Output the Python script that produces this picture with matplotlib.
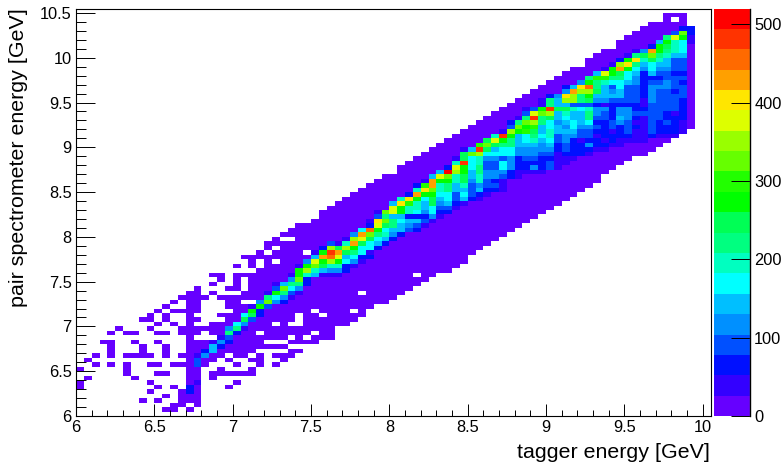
import numpy as np
import matplotlib
matplotlib.use("Agg")
import matplotlib.pyplot as plt
from matplotlib.colors import ListedColormap, BoundaryNorm
from matplotlib.ticker import MultipleLocator, FuncFormatter

plt.rcParams['font.family'] = ['Liberation Sans', 'DejaVu Sans']

# bins of the histogram: 0.05 GeV on both axes
x_edges = np.arange(82) * 0.05 + 6
y_edges = np.arange(92) * 0.05 + 6

# one colour per 26 counts, bottom to top of the palette
step = 26
palette = ['#6600ff', '#3300ff', '#0010ff', '#0050ff', '#0090ff', '#00bfff', '#00ffff',
           '#00ffc0', '#00ff80', '#00ff55', '#00ff00', '#22ff00', '#66ff00', '#99ff00',
           '#ddff00', '#ffe600', '#ffa000', '#ff6a00', '#ff3300', '#ff0000']

# isolated low count bins, row -> columns
sparse = {
    1: [11, 12, 14],
    2: [12, 13, 15],
    3: [8, 10, 13, 14, 15],
    4: [11, 13, 14, 15],
    5: [9, 13, 14, 15],
    6: [0, 10, 12, 14, 15, 19],
    7: [0, 9, 14, 15, 20],
    8: [1, 7, 14, 15, 17],
    9: [6, 10, 11, 14, 15, 17, 18, 19, 20, 21, 22],
    10: [0, 6, 14, 15, 18, 22],
    11: [2, 4, 6, 9, 10, 12, 13, 14, 15, 16, 20, 23, 25],
    12: [1, 14, 15, 16, 17, 19, 22, 23, 26],
    13: [2, 4, 6, 7, 8, 9, 11, 13, 14, 15, 16, 17, 18, 20, 21, 23, 25, 26, 27],
    14: [4, 8, 11, 14, 15, 16, 17, 18, 19, 20, 21, 22, 27, 28],
    15: [4, 8, 11, 14, 15, 16, 17, 18, 19, 20, 21, 22, 23, 24, 25, 26],
    16: [3, 4, 7, 10, 14, 15, 16, 17, 18, 19, 20, 21, 22, 23, 27, 28],
    17: [14, 18, 19, 20, 21, 22, 23, 24, 25, 26, 28],
    18: [4, 6, 7, 10, 11, 13, 14, 15, 17, 18, 19, 20, 21, 22, 24, 25, 26, 27, 28],
    19: [5, 9, 13, 14, 15, 16, 17, 18, 19, 20, 21, 22, 23, 24, 25, 26, 27, 28],
    20: [10, 12, 14, 17, 18, 19, 20, 21, 22, 23, 24, 26],
    21: [8, 9, 11, 14, 15, 19, 20, 21, 22, 23, 24, 25, 26, 27],
    22: [9, 11, 14, 18, 19, 20, 21, 22, 23, 24, 25, 26, 27],
    23: [10, 12, 13, 14, 15, 20, 21, 22, 23, 24, 25, 26, 27, 28],
    24: [11, 14, 15, 19, 20, 21, 22, 23, 24, 25, 26, 27, 28],
    25: [12, 14, 15, 19, 20, 23, 24, 25, 26, 27, 28],
    26: [13, 14, 15, 16, 18, 19, 20, 21, 22, 23, 24, 25, 26, 27, 28],
    27: [14, 15, 17, 21, 22, 23, 24, 25, 26, 27, 28],
    28: [15, 19, 20, 22, 23, 24, 25, 26, 27, 28],
    29: [17, 20, 22, 23, 24, 25, 26, 27, 28],
    30: [18, 20, 22, 23, 24, 25, 26, 27, 28],
    31: [17, 18, 20, 21, 22, 23, 24, 25, 26, 27, 28],
    32: [23, 24, 25, 26, 27, 28],
    33: [20, 22, 24, 25, 26, 27, 28],
    34: [22, 24, 26, 27, 28],
    35: [21, 22, 23, 24, 25, 26, 27, 28],
    36: [23, 25, 26, 27, 28],
    37: [24, 26, 27, 28],
    38: [24, 25, 26, 27, 28],
    39: [25, 28],
    40: [26, 27, 28],
    41: [27, 28],
    42: [28],
}

# low count band for columns 29 to 78: lowest and highest filled row
band_first_col = 29
band_bottom = [16, 16, 17, 17, 20, 20, 21, 22, 24, 25, 25, 26, 27, 28, 29, 30, 31, 32, 32, 33,
               34, 36, 37, 38, 39, 40, 41, 42, 43, 44, 45, 46, 47, 48, 49, 50, 51, 52, 54, 55,
               56, 57, 58, 58, 59, 60, 61, 62, 63, 64]
band_top = [42, 43, 45, 46, 47, 48, 49, 50, 51, 52, 53, 53, 55, 56, 57, 58, 59, 60, 61, 62,
            63, 64, 65, 66, 67, 68, 69, 70, 71, 72, 73, 74, 75, 76, 77, 77, 79, 80, 81, 81,
            83, 84, 85, 86, 87, 87, 89, 89, 89, 86]
# empty bins inside the band (column, row)
holes = [(29, 17), (30, 18), (31, 22), (30, 23), (35, 23), (36, 27), (29, 36), (43, 31), (76, 88)]

# palette level of the populated core, row -> (first column, levels)
core = {
    5: (14, [2]),
    6: (14, [2]),
    7: (15, [1]),
    11: (15, [3]),
    12: (15, [3]),
    13: (15, [1, 4]),
    14: (16, [2, 5]),
    15: (17, [5, 2]),
    16: (17, [1, 4, 2]),
    17: (18, [1, 3]),
    18: (19, [8, 2]),
    19: (19, [4, 8, 1]),
    20: (20, [6, 4]),
    21: (21, [9, 3]),
    22: (21, [6, 9, 2]),
    23: (22, [10, 2]),
    24: (22, [1, 10, 3]),
    25: (23, [4, 12, 4, 2]),
    26: (24, [8, 6, 4, 1]),
    27: (24, [1, 10, 8, 3, 1]),
    28: (25, [3, 12, 6, 4]),
    29: (25, [1, 5, 8, 8, 2]),
    30: (27, [4, 12, 2]),
    31: (27, [1, 10, 7, 5, 1, 1, 1]),
    32: (28, [10, 13, 7, 5, 4, 4, 2]),
    33: (28, [1, 10, 12, 9, 7, 7, 2, 1]),
    34: (29, [4, 14, 10, 13, 10, 6, 4, 1]),
    35: (30, [5, 16, 17, 14, 5, 6, 2, 2]),
    36: (30, [1, 10, 18, 16, 9, 8, 6, 1]),
    37: (31, [2, 13, 9, 13, 10, 6, 6, 2]),
    38: (32, [3, 1, 7, 16, 9, 6, 5, 2]),
    39: (34, [1, 13, 14, 9, 6, 5, 2]),
    40: (35, [4, 16, 12, 8, 7, 4, 2]),
    41: (36, [6, 17, 10, 6, 5, 5, 3, 2]),
    42: (37, [2, 14, 9, 8, 5, 4, 3, 1]),
    43: (37, [1, 15, 12, 8, 6, 5, 5, 3, 1]),
    44: (38, [3, 8, 5, 5, 2, 2, 2, 4, 1]),
    45: (38, [1, 12, 14, 10, 7, 6, 4, 6, 2, 2]),
    46: (40, [14, 10, 7, 7, 5, 6, 3, 3, 1]),
    47: (40, [5, 15, 11, 7, 5, 9, 4, 5, 2, 1]),
    48: (41, [7, 15, 10, 6, 9, 5, 6, 3, 5, 2, 1]),
    49: (42, [2, 16, 10, 10, 6, 6, 3, 6, 3, 2, 1]),
    50: (43, [7, 15, 12, 7, 8, 5, 5, 3, 5, 2, 2, 1]),
    51: (43, [2, 11, 16, 7, 8, 5, 7, 3, 4, 3, 3, 1]),
    52: (44, [1, 16, 10, 10, 7, 9, 4, 7, 3, 2, 1]),
    53: (45, [5, 14, 12, 7, 9, 5, 7, 4, 4, 3, 2, 1]),
    54: (46, [5, 19, 13, 10, 5, 8, 4, 4, 4, 2, 1, 1, 1, 1]),
    55: (47, [2, 14, 10, 6, 8, 3, 3, 6, 4, 2, 2, 4, 2, 3, 1]),
    56: (48, [7, 18, 6, 7, 3, 3, 6, 4, 2, 2, 2, 2, 3, 1, 1]),
    57: (48, [1, 9, 6, 7, 4, 4, 3, 4, 2, 3, 3, 2, 2, 1, 1, 1]),
    58: (49, [9, 12, 13, 6, 6, 6, 6, 4, 4, 4, 3, 3, 1, 2, 2, 2, 1]),
    59: (49, [1, 5, 18, 9, 5, 6, 6, 4, 4, 4, 4, 4, 2, 3, 2, 2, 2, 1, 1]),
    60: (51, [11, 12, 9, 8, 8, 5, 5, 5, 4, 5, 2, 3, 2, 2, 4, 2, 2, 1, 1]),
    61: (52, [9, 14, 10, 8, 5, 6, 7, 5, 6, 3, 4, 2, 1, 2, 2, 1, 2, 1, 1, 1, 1]),
    62: (53, [7, 18, 10, 5, 6, 8, 6, 7, 3, 4, 4, 3, 3, 1, 2, 2, 2, 2, 1, 1, 2, 1, 1, 1]),
    63: (54, [1, 13, 10, 11, 9, 5, 7, 5, 5, 5, 3, 3, 2, 2, 1, 2, 3, 1, 1, 3, 2, 2, 2, 1]),
    64: (55, [3, 12, 10, 11, 5, 6, 5, 4, 6, 4, 4, 3, 2, 3, 2, 3, 2, 1, 3, 2, 2, 2, 1]),
    65: (55, [2, 8, 12, 13, 8, 6, 4, 5, 6, 5, 6, 2, 2, 3, 4, 3, 1, 1, 3, 2, 3, 2, 1]),
    66: (56, [1, 8, 18, 8, 9, 5, 6, 5, 5, 8, 3, 3, 2, 5, 4, 2, 1, 3, 3, 2, 2, 2]),
    67: (57, [3, 14, 12, 13, 5, 7, 5, 5, 8, 4, 3, 2, 4, 4, 3, 3, 3, 3, 2, 1, 2]),
    68: (57, [1, 3, 10, 18, 9, 9, 7, 6, 7, 4, 4, 2, 4, 4, 2, 2, 3, 3, 3, 3, 2]),
    69: (59, [1, 8, 5, 5, 3, 3, 3, 2, 1, 2, 2, 2, 2, 1, 3, 3, 3, 3, 2]),
    70: (59, [1, 8, 5, 13, 13, 8, 9, 4, 4, 3, 3, 3, 3, 1, 4, 3, 3, 3, 2]),
    71: (60, [2, 4, 15, 13, 8, 10, 5, 5, 5, 5, 3, 3, 2, 4, 3, 3, 3, 3]),
    72: (62, [4, 16, 13, 13, 9, 5, 4, 5, 3, 3, 2, 4, 3, 3, 2, 3]),
    73: (62, [2, 5, 15, 17, 8, 5, 3, 6, 3, 3, 2, 4, 4, 4, 3, 3]),
    74: (64, [4, 10, 8, 7, 6, 6, 5, 4, 2, 3, 3, 4, 3, 2]),
    75: (65, [8, 11, 11, 8, 8, 6, 4, 2, 2, 2, 3, 3, 3]),
    76: (66, [5, 14, 10, 9, 6, 5, 2, 5, 3, 3, 2, 2]),
    77: (67, [1, 10, 16, 10, 6, 4, 6, 4, 4, 3, 3]),
    78: (68, [1, 13, 15, 8, 5, 6, 5, 5, 3, 3]),
    79: (69, [2, 10, 15, 7, 9, 7, 5, 3, 3]),
    80: (70, [1, 8, 9, 12, 8, 7, 5, 5]),
    81: (71, [1, 4, 16, 10, 8, 7, 6]),
    82: (73, [2, 10, 9, 7, 6]),
    83: (74, [5, 10, 7, 6, 1]),
    84: (75, [8, 14, 10, 1]),
    85: (76, [3, 12, 2]),
    86: (77, [2, 2]),
}

xticks = [6, 6.5, 7, 7.5, 8, 8.5, 9, 9.5, 10]
yticks = [6, 6.5, 7, 7.5, 8, 8.5, 9, 9.5, 10, 10.5]
zticks = [0, 100, 200, 300, 400, 500]

# fill the histogram, empty bins stay masked
z = np.zeros((91, 81))
for row, cols in sparse.items():
    z[row, cols] = step / 2
for i, (lo, hi) in enumerate(zip(band_bottom, band_top)):
    z[lo:hi + 1, band_first_col + i] = step / 2
for col, row in holes:
    z[row, col] = 0
for row, (col, levels) in core.items():
    z[row, col:col + len(levels)] = (np.array(levels) + 0.5) * step

W, H = 784, 463
fig = plt.figure(figsize=(W / 100, H / 100), dpi=100)
ax = fig.add_axes([76 / W, 1 - 416 / H, (710.5 - 76) / W, (416 - 8.5) / H])
cax = fig.add_axes([714 / W, 1 - 416 / H, (750 - 714) / W, (416 - 8.5) / H])

cmap = ListedColormap(palette)
norm = BoundaryNorm(np.arange(0, 521, step), cmap.N)
mesh = ax.pcolormesh(x_edges, y_edges, np.ma.masked_equal(z, 0), cmap=cmap, norm=norm,
                     linewidth=0, antialiased=False)

ax.set_xlim(6, 10.05)
ax.set_ylim(6, 10.55)
ax.set_xticks(xticks)
ax.set_yticks(yticks)
ax.xaxis.set_minor_locator(MultipleLocator(0.1))
ax.yaxis.set_minor_locator(MultipleLocator(0.1))
fmt = FuncFormatter(lambda v, p: '%g' % v)
ax.xaxis.set_major_formatter(fmt)
ax.yaxis.set_major_formatter(fmt)
ax.tick_params(axis='x', which='major', direction='in', length=8.6, width=0.7, labelsize=11.8, pad=3)
ax.tick_params(axis='x', which='minor', direction='in', length=4.3, width=0.7)
ax.tick_params(axis='y', which='major', direction='in', length=13.7, width=0.7, labelsize=11.8, pad=3)
ax.tick_params(axis='y', which='minor', direction='in', length=6.9, width=0.7)
for s in ax.spines.values():
    s.set_linewidth(0.8)

cb = fig.colorbar(mesh, cax=cax, ticks=zticks, drawedges=False)
cb.outline.set_visible(False)
cax.spines['right'].set_visible(True)
cax.minorticks_off()
cax.tick_params(axis='y', direction='in', length=13.7, width=0.7, labelsize=11.8, pad=3, right=True, left=False)
cax.plot([1, 1], [0, 1], transform=cax.transAxes, color='#444444', lw=1, clip_on=False)

fig.text(710 / W, 1 - 452 / H, 'tagger energy [GeV]', ha='right', va='center', fontsize=15.4)
fig.text(19 / W, 1 - 8 / H, 'pair spectrometer energy [GeV]', ha='center', va='top',
         rotation=90, fontsize=15.4)

fig.savefig('out.png', dpi=100)
